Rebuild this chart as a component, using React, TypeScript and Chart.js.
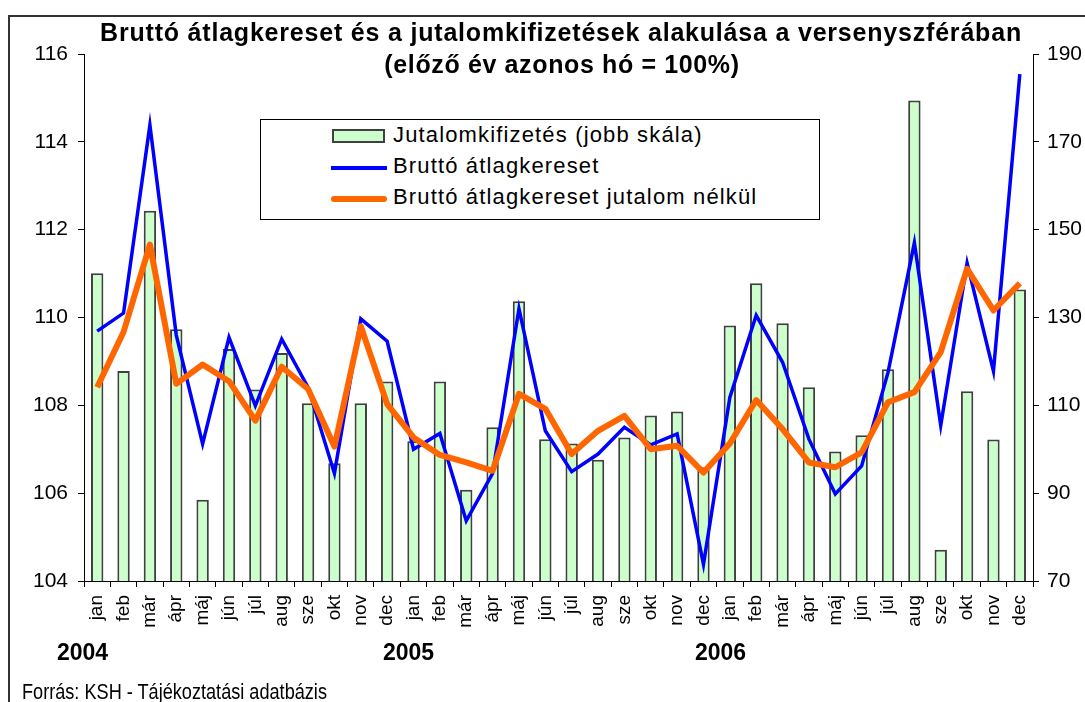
import React, { useEffect, useRef } from "react";
import { Chart, registerables } from "chart.js";

Chart.register(...registerables);

const months = ["jan", "feb", "már", "ápr", "máj", "jún", "júl", "aug", "sze", "okt", "nov", "dec"];
const categories = [...months, ...months, ...months];
const yearLabels = ["2004", "2005", "2006"];

// Jutalomkifizetés (jobb skála)
const bonus = [
  140.1, 117.8, 154.3, 127.3, 88.5, 122.8, 113.6, 121.9, 110.5, 96.8, 110.5, 115.4,
  101.8, 115.4, 90.8, 105.0, 133.7, 102.3, 101.3, 97.6, 102.7, 107.7, 108.6, 95.9,
  128.2, 137.8, 128.7, 114.1, 99.5, 103.2, 118.2, 179.4, 77.1, 113.2, 102.2, 136.4,
];

// Bruttó átlagkereset
const gross = [
  109.69, 110.1, 114.38, 109.6, 107.12, 109.55, 107.99, 109.51, 108.41, 106.45, 109.97, 109.46,
  107.0, 107.36, 105.37, 106.45, 110.2, 107.42, 106.49, 106.89, 107.5, 107.1, 107.35, 104.38,
  108.18, 110.05, 108.98, 107.23, 105.98, 106.62, 108.75, 111.7, 107.54, 111.24, 108.78, 115.54,
];

// Bruttó átlagkereset jutalom nélkül
const grossNoBonus = [
  108.41, 109.67, 111.66, 108.49, 108.93, 108.55, 107.65, 108.88, 108.37, 107.06, 109.8, 108.03,
  107.27, 106.87, 106.7, 106.51, 108.26, 107.92, 106.89, 107.42, 107.76, 107.0, 107.08, 106.47,
  107.13, 108.12, 107.46, 106.7, 106.59, 106.93, 108.07, 108.3, 109.21, 111.11, 110.16, 110.78,
];

const leftAxis = { min: 104, max: 116, step: 2 };
const rightAxis = { min: 70, max: 190, step: 20 };

const titleLines = [
  "Bruttó átlagkereset és a jutalomkifizetések alakulása a versenyszférában",
  "(előző év azonos hó = 100%)",
];
const legendLabels = [
  "Jutalomkifizetés (jobb skála)",
  "Bruttó átlagkereset",
  "Bruttó átlagkereset jutalom nélkül",
];
const sourceText = "Forrás: KSH - Tájékoztatási adatbázis";

const FONT = '"Liberation Sans", Arial, sans-serif';

export default function App() {
  const canvasRef = useRef<HTMLCanvasElement | null>(null);

  useEffect(() => {
    const ctx = canvasRef.current;
    if (!ctx) return;
    const tickFont = { family: FONT, size: 21 };
    const chart = new Chart(ctx, {
      type: "bar",
      data: {
        labels: categories,
        datasets: [
          {
            type: "line",
            label: legendLabels[2],
            data: grossNoBonus,
            yAxisID: "y",
            borderColor: "#ff6600",
            borderWidth: 6,
            pointRadius: 0,
            tension: 0,
            borderJoinStyle: "round",
            order: 1,
          } as any,
          {
            type: "line",
            label: legendLabels[1],
            data: gross,
            yAxisID: "y",
            borderColor: "#0000ff",
            borderWidth: 3.5,
            pointRadius: 0,
            tension: 0,
            order: 2,
          } as any,
          {
            type: "bar",
            label: legendLabels[0],
            data: bonus,
            yAxisID: "y1",
            backgroundColor: "#ccffcc",
            borderColor: "#404040",
            borderWidth: 2,
            barPercentage: 0.47,
            categoryPercentage: 1,
            order: 3,
          } as any,
        ],
      },
      options: {
        animation: false,
        responsive: false,
        maintainAspectRatio: false,
        layout: { padding: { left: 8, right: 0, top: 54, bottom: 71 } },
        plugins: {
          legend: { display: false },
          title: { display: false },
          tooltip: { enabled: false },
        },
        scales: {
          x: {
            offset: true,
            grid: {
              display: true,
              offset: true,
              drawOnChartArea: false,
              drawTicks: true,
              tickLength: 6,
              color: "#000",
            },
            border: { display: true, color: "#000", width: 1 },
            ticks: {
              autoSkip: false,
              maxRotation: 90,
              minRotation: 90,
              padding: 8,
              color: "#000",
              font: { family: FONT, size: 19 },
            },
            afterFit: (s: any) => {
              s.height = 50;
            },
          },
          y: {
            position: "left",
            min: leftAxis.min,
            max: leftAxis.max,
            ticks: { stepSize: leftAxis.step, color: "#000", font: tickFont, padding: 10 },
            grid: { drawOnChartArea: false, drawTicks: true, tickLength: 6, color: "#000" },
            border: { display: true, color: "#000", width: 1 },
            afterFit: (s: any) => {
              s.width = 76;
            },
          },
          y1: {
            position: "right",
            min: rightAxis.min,
            max: rightAxis.max,
            ticks: { stepSize: rightAxis.step, color: "#000", font: tickFont, padding: 8 },
            grid: { drawOnChartArea: false, drawTicks: true, tickLength: 6, color: "#000" },
            border: { display: true, color: "#000", width: 1 },
            afterFit: (s: any) => {
              s.width = 52;
            },
          },
        },
      },
    });
    return () => chart.destroy();
  }, []);

  const abs = (o: React.CSSProperties): React.CSSProperties => ({
    position: "absolute",
    whiteSpace: "nowrap",
    fontFamily: FONT,
    color: "#000",
    ...o,
  });

  return (
    <div
      style={{
        position: "absolute",
        left: 0,
        top: 0,
        width: 1085,
        height: 702,
        overflow: "hidden",
        background: "#fff",
      }}
    >
      <div
        style={{
          position: "absolute",
          left: 8,
          top: 15,
          width: 1200,
          height: 800,
          border: "2px solid #333",
        }}
      />
      <canvas
        ref={canvasRef}
        width={1085}
        height={702}
        style={{ position: "absolute", left: 0, top: 0, width: 1085, height: 702 }}
      />
      {/* title */}
      <div
        style={abs({
          left: 561,
          top: 19.5,
          transform: "translateX(-50%)",
          fontSize: 25,
          lineHeight: "25px",
          fontWeight: "bold",
          letterSpacing: "0.8px",
        })}
      >
        {titleLines[0]}
      </div>
      <div
        style={abs({
          left: 562,
          top: 51.5,
          transform: "translateX(-50%)",
          fontSize: 25,
          lineHeight: "25px",
          fontWeight: "bold",
          letterSpacing: "0.63px",
        })}
      >
        {titleLines[1]}
      </div>
      {/* legend */}
      <div
        style={{
          position: "absolute",
          left: 260,
          top: 119,
          width: 560,
          height: 101,
          border: "1px solid #000",
          boxSizing: "border-box",
          background: "#fff",
        }}
      />
      <div
        style={{
          position: "absolute",
          left: 332,
          top: 129,
          width: 53,
          height: 14,
          background: "#ccffcc",
          border: "2px solid #404040",
          boxSizing: "border-box",
        }}
      />
      <div
        style={{
          position: "absolute",
          left: 331,
          top: 166,
          width: 56,
          height: 4,
          background: "#0000ff",
        }}
      />
      <div
        style={{
          position: "absolute",
          left: 331,
          top: 196,
          width: 56,
          height: 6,
          background: "#ff6600",
          borderRadius: 3,
        }}
      />
      {legendLabels.map((t, i) => (
        <div
          key={t}
          style={abs({
            left: 393,
            top: 124.4 + i * 31,
            fontSize: 22,
            lineHeight: "22px",
            letterSpacing: "1.15px",
          })}
        >
          {t}
        </div>
      ))}
      {/* years */}
      {yearLabels.map((y, i) => (
        <div
          key={y}
          style={abs({
            left: [57, 383, 695][i],
            top: 640.5,
            fontSize: 23,
            lineHeight: "23px",
            fontWeight: "bold",
          })}
        >
          {y}
        </div>
      ))}
      {/* source */}
      <div
        style={abs({
          left: 22,
          top: 681.4,
          fontSize: 22,
          lineHeight: "22px",
          transform: "scaleX(0.824)",
          transformOrigin: "0 0",
        })}
      >
        {sourceText}
      </div>
    </div>
  );
}
